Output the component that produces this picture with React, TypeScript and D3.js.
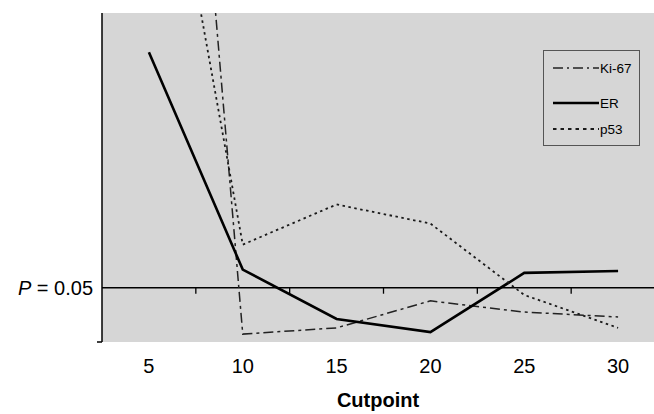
import React from "react";
import * as d3 from "d3";

// Cutpoint categories
const categories = ["5", "10", "15", "20", "25", "30"];
// Relative significance score (arbitrary units; higher = more significant)
const ki67 = [339.6, 2.4, 4.3, 12.5, 9.1, 7.6];
const er = [88.1, 22.0, 7.0, 3.0, 21.0, 21.6];
const p53 = [187.5, 29.6, 41.8, 36.0, 14.3, 4.3];
const threshold = 16.5; // P = 0.05
const seriesNames = ["Ki-67", "ER", "p53"];

const W = 654;
const H = 414;
const left = 102;
const right = 665;
const top = 13;
const bottom = 342;
const FONT = "'Liberation Sans', Arial, sans-serif";

const styles: Record<string, { dash: string; width: number; color: string; legendDash: string }> = {
  "Ki-67": { dash: "10,4,3,4", width: 1.5, color: "#222", legendDash: "10,4,2,4" },
  ER: { dash: "", width: 2.6, color: "#000", legendDash: "" },
  p53: { dash: "2.5,3.5", width: 1.8, color: "#1a1a1a", legendDash: "3.5,4" },
};

export default function App() {
  const x = d3.scaleBand<string>().domain(categories).range([left, right]).padding(0);
  const y = d3.scaleLinear().domain([0, 100]).range([bottom, top]);
  const cx = (c: string) => (x(c) as number) + x.bandwidth() / 2;
  const line = d3
    .line<number>()
    .x((_, i) => cx(categories[i]))
    .y((v) => y(v));
  const data: Record<string, number[]> = { "Ki-67": ki67, ER: er, p53: p53 };
  const ty = y(threshold);

  return (
    <svg
      width={W}
      height={H}
      style={{ position: "absolute", left: 0, top: 0, background: "#fff" }}
      fontFamily={FONT}
    >
      <defs>
        <clipPath id="plotclip">
          <rect x={left} y={top} width={W - left} height={bottom - top} />
        </clipPath>
      </defs>
      <rect x={left} y={top} width={W - left} height={bottom - top} fill="#d6d6d6" />
      {/* threshold axis */}
      <line x1={left} x2={W} y1={ty} y2={ty} stroke="#000" strokeWidth={1.5} />
      {categories.slice(1).map((c) => (
        <line
          key={c}
          x1={x(c) as number}
          x2={x(c) as number}
          y1={ty}
          y2={ty + 6}
          stroke="#000"
          strokeWidth={1.3}
        />
      ))}
      {/* series */}
      <g clipPath="url(#plotclip)">
        {seriesNames.map((s) => (
          <path
            key={s}
            d={line(data[s]) || ""}
            fill="none"
            stroke={styles[s].color}
            strokeWidth={styles[s].width}
            strokeDasharray={styles[s].dash || undefined}
            strokeLinejoin="miter"
          />
        ))}
      </g>
      {/* left axis */}
      <line x1={left} x2={left} y1={top} y2={bottom} stroke="#000" strokeWidth={1.5} />
      <line x1={left - 5} x2={left} y1={bottom} y2={bottom} stroke="#000" strokeWidth={1.5} />
      <text x={93} y={ty} dy="0.35em" textAnchor="end" fontSize={20}>
        <tspan fontStyle="italic">P</tspan>
        <tspan> = 0.05</tspan>
      </text>
      {/* tick labels */}
      {categories.map((c) => (
        <text key={c} x={cx(c)} y={373} textAnchor="middle" fontSize={20}>
          {c}
        </text>
      ))}
      <text x={378} y={407} textAnchor="middle" fontSize={20} fontWeight="bold">
        Cutpoint
      </text>
      {/* legend */}
      <rect x={543.5} y={50.5} width={96} height={95} fill="#d6d6d6" stroke="#555" strokeWidth={1} />
      {seriesNames.map((s, i) => {
        const ly = [68, 103, 129][i];
        return (
          <g key={s}>
            <line
              x1={553}
              x2={599}
              y1={ly}
              y2={ly}
              stroke={styles[s].color}
              strokeWidth={styles[s].width}
              strokeDasharray={styles[s].legendDash || undefined}
            />
            <text x={600} y={ly} dy="0.35em" fontSize={13.5}>
              {s}
            </text>
          </g>
        );
      })}
    </svg>
  );
}
